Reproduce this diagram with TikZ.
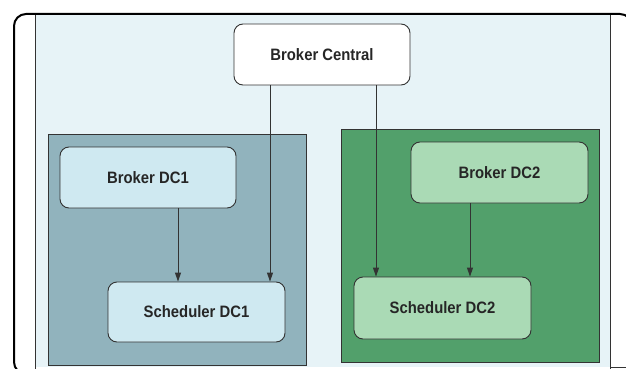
\documentclass[tikz,border=0pt]{standalone}
\usepackage{fontspec}
\setmainfont{Liberation Sans}[FakeStretch=0.9]
\usetikzlibrary{arrows.meta}
\definecolor{bgblue}{HTML}{E7F3F7}
\definecolor{grpblue}{HTML}{91B3BD}
\definecolor{grpgreen}{HTML}{52A06B}
\definecolor{boxblue}{HTML}{CFE9F1}
\definecolor{boxgreen}{HTML}{AADAB5}
\definecolor{edge}{HTML}{333333}
\tikzset{
  x=1pt, y=-1pt,
  box/.style={draw=edge, line width=0.9pt, rounded corners=9pt, minimum width=176pt, minimum height=61pt,
    inner sep=0pt, font=\fontsize{16.5}{18}\selectfont\bfseries, text=black!85},
  grp/.style={draw=edge, line width=0.9pt},
  arr/.style={draw=edge, line width=0.9pt, -{Triangle[length=9pt,width=6pt]}},
}
\begin{document}
\begin{tikzpicture}
\useasboundingbox (0,0) rectangle (626,369);
\fill[white] (0,0) rectangle (626,369);
\fill[bgblue] (35,15) rectangle (610,367);
\draw[line width=2pt, rounded corners=12pt] (14,14) rectangle (632,374);
\draw[edge, line width=0.9pt] (35,15) -- (35,369);
\draw[edge, line width=0.9pt] (610,15) -- (610,369);
\draw[edge, line width=0.9pt] (610,367) -- (626,367);
% groups
\node[grp, fill=grpblue, minimum width=258pt, minimum height=231pt, inner sep=0pt] (g1) at (177,249.5) {};
\node[grp, fill=grpgreen, minimum width=258pt, minimum height=233pt, inner sep=0pt] (g2) at (470,245.5) {};
% boxes
\node[box, fill=white] (bc) at (322,54.5) {Broker Central};
\node[box, fill=boxblue] (b1) at (148,177.5) {Broker DC1};
\node[box, fill=boxblue, minimum width=177pt, minimum height=60pt] (s1) at (196.5,312) {Scheduler DC1};
\node[box, fill=boxgreen, minimum width=177pt] (b2) at (499.5,172.5) {Broker DC2};
\node[box, fill=boxgreen, minimum width=177pt, minimum height=62pt] (s2) at (442.5,308) {Scheduler DC2};
% connector columns
\coordinate (c1) at (178,0);
\coordinate (c2) at (270,0);
\coordinate (c3) at (376,0);
\coordinate (c4) at (470,0);
\draw[arr] (b1.south -| c1) -- (s1.north -| c1);
\draw[arr] (bc.south -| c2) -- (s1.north -| c2);
\draw[arr] (bc.south -| c3) -- (s2.north -| c3);
\draw[arr] (b2.south -| c4) -- (s2.north -| c4);
\end{tikzpicture}
\end{document}
